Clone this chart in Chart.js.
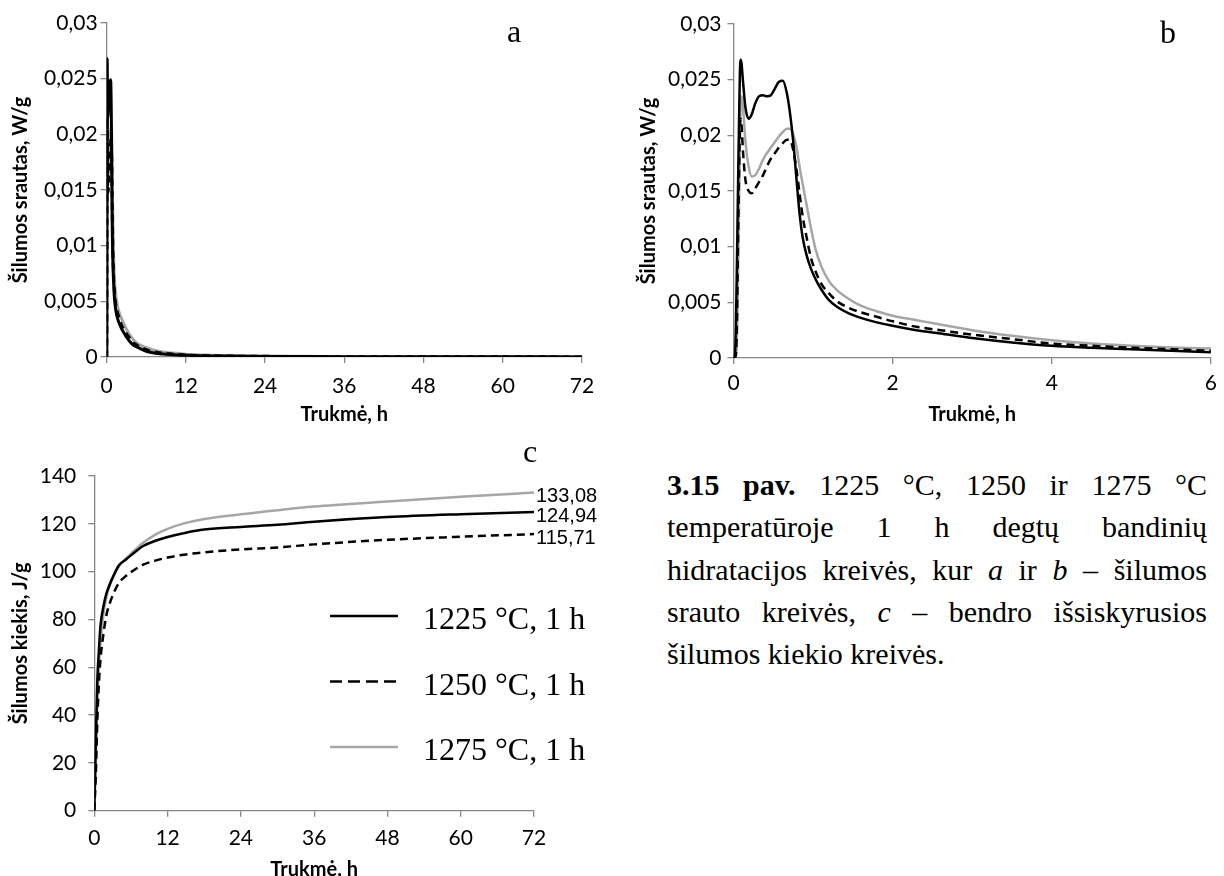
<!DOCTYPE html>
<html lang="lt">
<head>
<meta charset="utf-8">
<title>3.15 pav.</title>
<script src="https://cdn.jsdelivr.net/npm/chart.js@4.4.1/dist/chart.umd.min.js"></script>
<style>
  html, body { margin: 0; padding: 0; background: #fff; }
  body { width: 1224px; height: 876px; position: relative; overflow: hidden; }
  canvas { position: absolute; }
  #chartA { left: 0; top: 0; }
  #chartB { left: 612px; top: 0; }
  #chartC { left: 0; top: 430px; }
  .letter {
    position: absolute;
    font-family: "Liberation Serif", "Times New Roman", serif;
    font-size: 32px;
    line-height: 32px;
  }
  #caption {
    position: absolute;
    left: 667px;
    top: 464px;
    width: 540px;
    font-family: "Liberation Serif", "Times New Roman", serif;
    font-size: 30px;
    line-height: 42.3px;
    color: #000;
  }
  #caption div { text-align: justify; text-align-last: justify; }
  #caption div.last { text-align: left; text-align-last: left; }
</style>
</head>
<body>
<canvas id="chartA" width="612" height="440"></canvas>
<canvas id="chartB" width="612" height="440"></canvas>
<canvas id="chartC" width="612" height="460"></canvas>

<div class="letter" style="left:507px; top:15px;">a</div>
<div class="letter" style="left:1160px; top:16px;">b</div>
<div class="letter" style="left:523px; top:435px;">c</div>

<div id="caption">
  <div><b>3.15 pav.</b> 1225 °C, 1250 ir 1275 °C</div>
  <div>temperatūroje 1 h degtų bandinių</div>
  <div>hidratacijos kreivės, kur <i>a</i> ir <i>b</i> – šilumos</div>
  <div>srauto kreivės, <i>c</i> – bendro išsiskyrusios</div>
  <div class="last">šilumos kiekio kreivės.</div>
</div>

<script>
// heat flow, W/g (charts a and b share the same series)
const flowTime = [0, 0.02, 0.04, 0.06, 0.08, 0.09, 0.1, 0.12, 0.15, 0.19, 0.23, 0.27, 0.32, 0.37,
  0.42, 0.47, 0.52, 0.57, 0.62, 0.67, 0.71, 0.75, 0.79, 0.83, 0.87, 0.92, 0.97, 1.03, 1.1, 1.2,
  1.3, 1.45, 1.6, 1.8, 2, 2.3, 2.6, 3, 3.5, 4, 4.5, 5, 5.5, 6, 7, 8, 10, 12, 15, 18, 24, 30, 36,
  48, 60, 72];
const flow1225 = [0, 0.0005, 0.007, 0.017, 0.0255, 0.0268, 0.0265, 0.0248, 0.0225, 0.0215, 0.0219,
  0.0228, 0.0235, 0.0236, 0.0235, 0.0236, 0.0242, 0.0248, 0.0249, 0.0238, 0.022, 0.0195, 0.0162,
  0.013, 0.0108, 0.0092, 0.0081, 0.0071, 0.0062, 0.0052, 0.0046, 0.004, 0.0036, 0.0032, 0.0029,
  0.0025, 0.0022, 0.0018, 0.0014, 0.0011, 0.00092, 0.00078, 0.00065, 0.00052, 0.00038, 0.0003,
  0.0002, 0.00015, 0.0001, 0.00008, 0.00005, 0.00004, 0.00003, 0.00002, 0.000015, 0.00001];
const flow1250 = [0, 0, 0.002, 0.012, 0.0205, 0.0215, 0.021, 0.0185, 0.016, 0.015, 0.0148, 0.0152,
  0.0158, 0.0164, 0.0172, 0.0179, 0.0184, 0.0189, 0.0193, 0.0196, 0.0196, 0.0187, 0.017, 0.0148,
  0.0127, 0.0108, 0.0091, 0.0078, 0.0067, 0.0058, 0.0051, 0.0045, 0.0041, 0.0037, 0.0033, 0.0028,
  0.0025, 0.0021, 0.0017, 0.0013, 0.0011, 0.00092, 0.00078, 0.00066, 0.00048, 0.00038, 0.00026,
  0.00018, 0.00012, 0.00009, 0.00006, 0.00004, 0.00003, 0.00002, 0.000015, 0.00001];
const flow1275 = [0, 0, 0.001, 0.009, 0.019, 0.0228, 0.0235, 0.0225, 0.0195, 0.0172, 0.0163, 0.0164,
  0.017, 0.0178, 0.0184, 0.0189, 0.0194, 0.0199, 0.0203, 0.0206, 0.0206, 0.0201, 0.019, 0.0172,
  0.0156, 0.0137, 0.0118, 0.0098, 0.0083, 0.0069, 0.0061, 0.0053, 0.0047, 0.0042, 0.0038, 0.0034,
  0.003, 0.0025, 0.002, 0.0016, 0.0013, 0.0011, 0.00095, 0.00085, 0.00064, 0.0005, 0.00035,
  0.00025, 0.00017, 0.00012, 0.00008, 0.00006, 0.00004, 0.00003, 0.00002, 0.000015];

// total heat, J/g (chart c)
const heatTime = [0, 0.25, 0.5, 0.75, 1, 1.5, 2, 2.5, 3, 4, 5, 6, 8, 10, 12, 15, 18, 24, 30, 36, 48, 60, 72];
const heat1225 = [0, 30, 55, 67, 77, 85.5, 91, 94.5, 97.5, 102.6, 104.7, 106.8, 110.7, 112.9, 114.5,
  116.3, 117.6, 118.7, 119.6, 120.9, 122.8, 124, 124.94];
const heat1250 = [0, 15, 38, 53, 63, 74, 82, 86.5, 90, 95.2, 97.8, 99.8, 102.9, 104.6, 105.9, 107.2,
  108.1, 109.3, 110.1, 111.4, 113.3, 114.6, 115.71];
const heat1275 = [0, 20, 46, 60, 70, 82.5, 89.5, 94, 97.2, 102, 105, 107.5, 112.1, 115.5, 117.9,
  120.4, 122, 124, 125.7, 127.2, 129.3, 131.3, 133.08];

const seriesLabels = ['1225 °C, 1 h', '1250 °C, 1 h', '1275 °C, 1 h'];

// tick values
const hourTicks72 = [0, 12, 24, 36, 48, 60, 72];
const hourTicks6 = [0, 2, 4, 6];
const flowTicks = [0, 0.005, 0.01, 0.015, 0.02, 0.025, 0.03];
const heatTicks = [0, 20, 40, 60, 80, 100, 120, 140];

const AXIS_COLOR = '#868686';
const GREY = '#a6a6a6';

function fmtComma(v) {
  return String(Number(v.toFixed(3))).replace('.', ',');
}

function toPoints(xs, ys) {
  return xs.map((x, i) => ({ x: x, y: ys[i] }));
}

function makeScale(o) {
  return {
    type: 'linear',
    min: o.min,
    max: o.max,
    afterBuildTicks: s => { s.ticks = o.ticks.map(v => ({ value: v })); },
    afterFit: s => {
      if (o.width) s.width = o.width;
      if (o.height) s.height = o.height;
    },
    grid: { display: true, drawOnChartArea: false, drawTicks: true, tickLength: 6, color: AXIS_COLOR, lineWidth: 1.3 },
    border: { display: true, color: AXIS_COLOR, width: 1.3 },
    ticks: {
      color: '#000',
      font: { family: 'Lato', size: 21 },
      padding: o.tickPad,
      autoSkip: false,
      maxRotation: 0,
      callback: v => fmtComma(v)
    },
    title: {
      display: true,
      text: o.title,
      color: '#000',
      font: { family: 'Lato', size: 20, weight: 'bold' },
      padding: o.titlePad
    }
  };
}

function makeDatasets(xs, series, width, dash) {
  const colors = ['#000', '#000', GREY];
  return series.map((ys, i) => ({
    label: seriesLabels[i],
    data: toPoints(xs, ys),
    borderColor: colors[i],
    borderWidth: width,
    borderDash: i === 1 ? dash : [],
    pointRadius: 0,
    fill: false,
    cubicInterpolationMode: 'monotone'
  }));
}

// value labels at the end of each curve (chart c)
const endLabels = {
  id: 'endLabels',
  afterDatasetsDraw(chart) {
    const ctx = chart.ctx;
    ctx.save();
    ctx.font = '20px "Liberation Sans", Arial, sans-serif';
    ctx.fillStyle = '#000';
    ctx.textAlign = 'left';
    ctx.textBaseline = 'middle';
    chart.data.datasets.forEach((ds, i) => {
      const meta = chart.getDatasetMeta(i);
      const pt = meta.data[meta.data.length - 1];
      const v = ds.data[ds.data.length - 1].y;
      ctx.fillText(v.toFixed(2).replace('.', ','), pt.x + 2, pt.y + 4);
    });
    ctx.restore();
  }
};

// legend drawn inside the plot of chart c
const sideLegend = {
  id: 'sideLegend',
  afterDraw(chart, args, opts) {
    const ctx = chart.ctx;
    ctx.save();
    ctx.font = '32px "Liberation Serif", "Times New Roman", serif';
    ctx.fillStyle = '#000';
    ctx.textAlign = 'left';
    ctx.textBaseline = 'alphabetic';
    chart.data.datasets.forEach((ds, i) => {
      const y = opts.top + i * opts.rowGap;
      ctx.beginPath();
      ctx.strokeStyle = ds.borderColor;
      ctx.lineWidth = 2.5;
      ctx.setLineDash(ds.borderDash.length ? opts.dash : []);
      ctx.moveTo(opts.left, y);
      ctx.lineTo(opts.left + opts.lineLen, y);
      ctx.stroke();
      ctx.setLineDash([]);
      ctx.fillText(ds.label, opts.left + opts.lineLen + opts.gap, y + 13);
    });
    ctx.restore();
  }
};

const common = {
  responsive: false,
  animation: false,
  devicePixelRatio: 1,
  events: []
};

new Chart(document.getElementById('chartA'), {
  type: 'line',
  data: { datasets: makeDatasets(flowTime, [flow1225, flow1250, flow1275], 3, [7, 5]) },
  options: Object.assign({}, common, {
    layout: { padding: { top: 23, right: 30, left: 0, bottom: 0 } },
    plugins: { legend: { display: false }, tooltip: { enabled: false } },
    scales: {
      x: makeScale({ min: 0, max: 72, ticks: hourTicks72, height: 83, tickPad: 11,
        title: 'Trukmė, h', titlePad: { top: 0, bottom: 13 } }),
      y: makeScale({ min: 0, max: 0.03, ticks: flowTicks, width: 106.6, tickPad: 3,
        title: 'Šilumos srautas, W/g', titlePad: { top: 8.5, bottom: 0 } })
    }
  })
});

new Chart(document.getElementById('chartB'), {
  type: 'line',
  data: { datasets: makeDatasets(flowTime, [flow1225, flow1250, flow1275], 2.5, [8, 5]) },
  options: Object.assign({}, common, {
    layout: { padding: { top: 24, right: 10, left: 0, bottom: 0 } },
    plugins: { legend: { display: false }, tooltip: { enabled: false } },
    scales: {
      x: makeScale({ min: 0, max: 6, ticks: hourTicks6, height: 82, tickPad: 7,
        title: 'Trukmė, h', titlePad: { top: 0, bottom: 13 } }),
      y: makeScale({ min: 0, max: 0.03, ticks: flowTicks, width: 121.5, tickPad: 6,
        title: 'Šilumos srautas, W/g', titlePad: { top: 25, bottom: 0 } })
    }
  })
});

new Chart(document.getElementById('chartC'), {
  type: 'line',
  data: { datasets: makeDatasets(heatTime, [heat1225, heat1250, heat1275], 2.5, [8, 5]) },
  options: Object.assign({}, common, {
    layout: { padding: { top: 46, right: 78, left: 0, bottom: 0 } },
    plugins: {
      legend: { display: false },
      tooltip: { enabled: false },
      sideLegend: { left: 330, top: 186, rowGap: 65.5, lineLen: 68, gap: 25, dash: [12, 6] }
    },
    scales: {
      x: makeScale({ min: 0, max: 72, ticks: hourTicks72, height: 79.3, tickPad: 9,
        title: 'Trukmė, h', titlePad: { top: 0, bottom: 8 } }),
      y: makeScale({ min: 0, max: 140, ticks: heatTicks, width: 94.3, tickPad: 12,
        title: 'Šilumos kiekis, J/g', titlePad: { top: 8.5, bottom: 0 } })
    }
  }),
  plugins: [endLabels, sideLegend]
});
</script>
</body>
</html>
